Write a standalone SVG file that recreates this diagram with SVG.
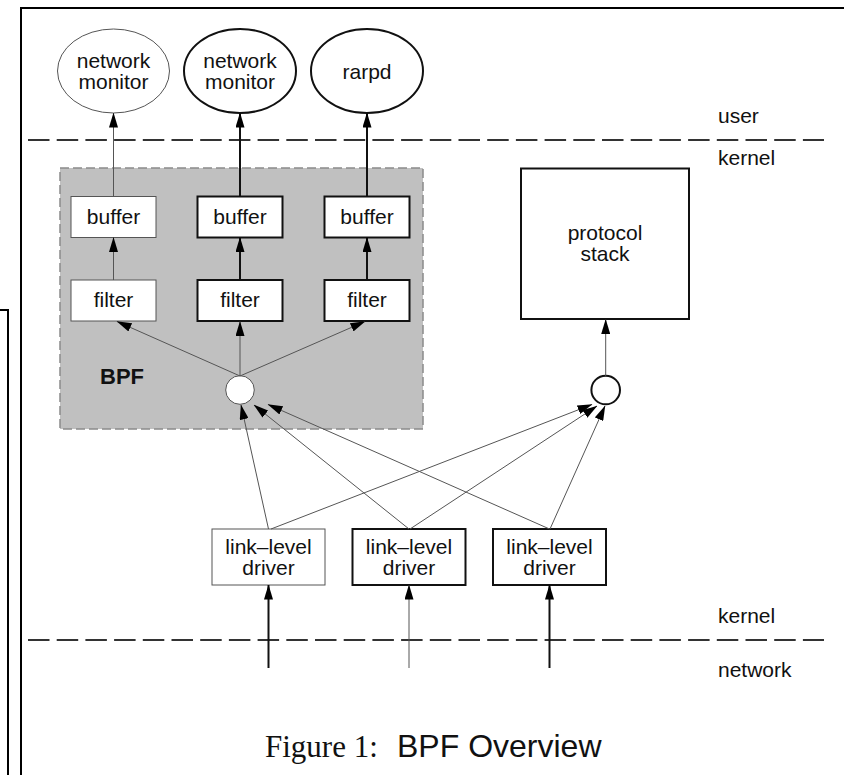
<svg xmlns="http://www.w3.org/2000/svg" width="844" height="775" viewBox="0 0 844 775">
<style>
.t{font-family:"Liberation Sans",Arial,sans-serif;font-size:21px;fill:#111;text-anchor:middle}
.lbl{font-family:"Liberation Sans",Arial,sans-serif;font-size:21px;fill:#111}
.thin{fill:#fff;stroke:#555;stroke-width:1}
.thick{fill:#fff;stroke:#111;stroke-width:2}
.cthin{stroke:#555;stroke-width:1;fill:none;marker-end:url(#ah)}
.cthick{stroke:#111;stroke-width:2;fill:none;marker-end:url(#ah)}
.dash{stroke:#333;stroke-width:2;stroke-dasharray:21.5 7.2;fill:none}
.frame{stroke:#000;stroke-width:2;fill:none}
</style>
<defs>
<marker id="ah" markerUnits="userSpaceOnUse" markerWidth="15" markerHeight="9" refX="14.5" refY="4.5" orient="auto">
<path d="M0,0 L15,4.5 L0,9 z" fill="#000"/>
</marker>
</defs>
<rect x="0" y="0" width="844" height="775" fill="#fff"/>
<g id="frames">
<path class="frame" d="M0,310 H8 V775"/>
<path class="frame" d="M21,775 V8 H846"/>
</g>
<g id="boundaries">
<line class="dash" x1="28" y1="140" x2="824" y2="140"/>
<line class="dash" x1="28" y1="640" x2="824" y2="640"/>
<text class="lbl" x="718" y="123">user</text>
<text class="lbl" x="718" y="165">kernel</text>
<text class="lbl" x="718" y="623">kernel</text>
<text class="lbl" x="718" y="677">network</text>
</g>
<g id="bpf">
<rect x="60" y="168" width="363" height="261" fill="#c0c0c0" stroke="#8a8a8a" stroke-width="1.5" stroke-dasharray="9 4"/>
<text x="100" y="384" font-family="Liberation Sans, Arial, sans-serif" font-size="22" font-weight="bold" fill="#111">BPF</text>
</g>
<g id="monitor1"><ellipse class="thin" cx="113.5" cy="71" rx="56" ry="42"/><text class="t" x="113.5" y="68">network</text><text class="t" x="113.5" y="89">monitor</text></g>
<g id="monitor2"><ellipse class="thick" cx="240" cy="71" rx="56" ry="42"/><text class="t" x="240" y="68">network</text><text class="t" x="240" y="89">monitor</text></g>
<g id="rarpd"><ellipse class="thick" cx="367" cy="71" rx="56" ry="42"/><text class="t" x="367" y="79">rarpd</text></g>
<g id="buffer1"><rect class="thin" x="71" y="196.5" width="85" height="41"/><text class="t" x="113.5" y="224">buffer</text></g>
<g id="buffer2"><rect class="thick" x="197.5" y="196.5" width="85" height="41"/><text class="t" x="240" y="224">buffer</text></g>
<g id="buffer3"><rect class="thick" x="324.5" y="196.5" width="85" height="41"/><text class="t" x="367" y="224">buffer</text></g>
<g id="filter1"><rect class="thin" x="71" y="280" width="85" height="41"/><text class="t" x="113.5" y="307">filter</text></g>
<g id="filter2"><rect class="thick" x="197.5" y="280" width="85" height="41"/><text class="t" x="240" y="307">filter</text></g>
<g id="filter3"><rect class="thick" x="324.5" y="280" width="85" height="41"/><text class="t" x="367" y="307">filter</text></g>
<g id="tap1"><circle class="thin" cx="240" cy="390" r="14.3"/></g>
<g id="stack"><rect class="thick" x="521" y="168.5" width="168" height="150.5"/><text class="t" x="605" y="240">protocol</text><text class="t" x="605" y="261">stack</text></g>
<g id="tap2"><circle class="thick" cx="605.7" cy="390" r="14.3"/></g>
<g id="driver1"><rect class="thin" x="212" y="529" width="113" height="56"/><text class="t" x="268.5" y="554">link–level</text><text class="t" x="268.5" y="575">driver</text></g>
<g id="driver2"><rect class="thick" x="352.5" y="529" width="113" height="56"/><text class="t" x="409" y="554">link–level</text><text class="t" x="409" y="575">driver</text></g>
<g id="driver3"><rect class="thick" x="493" y="529" width="113" height="56"/><text class="t" x="549.5" y="554">link–level</text><text class="t" x="549.5" y="575">driver</text></g>
<g id="connectors">
<line class="cthin" x1="113.5" y1="196.5" x2="113.5" y2="113"/>
<line class="cthick" x1="240" y1="196.5" x2="240" y2="113"/>
<line class="cthick" x1="367" y1="196.5" x2="367" y2="113"/>
<line class="cthin" x1="113.5" y1="280" x2="113.5" y2="237.5"/>
<line class="cthick" x1="240" y1="280" x2="240" y2="237.5"/>
<line class="cthick" x1="367" y1="280" x2="367" y2="237.5"/>
<line class="cthin" x1="240" y1="376" x2="117" y2="321.5"/>
<line class="cthin" x1="240" y1="376" x2="240" y2="321.5"/>
<line class="cthin" x1="240" y1="376" x2="365" y2="321.5"/>
<line class="cthin" x1="605.7" y1="376" x2="605.7" y2="319.5"/>
<line class="cthin" x1="268.5" y1="529" x2="241" y2="405"/>
<line class="cthin" x1="409" y1="529" x2="254" y2="405"/>
<line class="cthin" x1="549.5" y1="529" x2="268" y2="404.5"/>
<line class="cthin" x1="271" y1="529" x2="592" y2="404.5"/>
<line class="cthin" x1="410" y1="529" x2="597" y2="406"/>
<line class="cthin" x1="550" y1="529" x2="605" y2="406"/>
<line class="cthick" x1="268.5" y1="668" x2="268.5" y2="585"/>
<line class="cthin" x1="409" y1="668" x2="409" y2="585"/>
<line class="cthick" x1="549.5" y1="668" x2="549.5" y2="585"/>
</g>
<g id="caption">
<text y="757" fill="#111"><tspan x="265" font-family="Liberation Serif, Times New Roman, serif" font-size="31">Figure 1:</tspan><tspan x="397" font-family="Liberation Sans, Arial, sans-serif" font-size="32">BPF Overview</tspan></text>
</g>
</svg>
